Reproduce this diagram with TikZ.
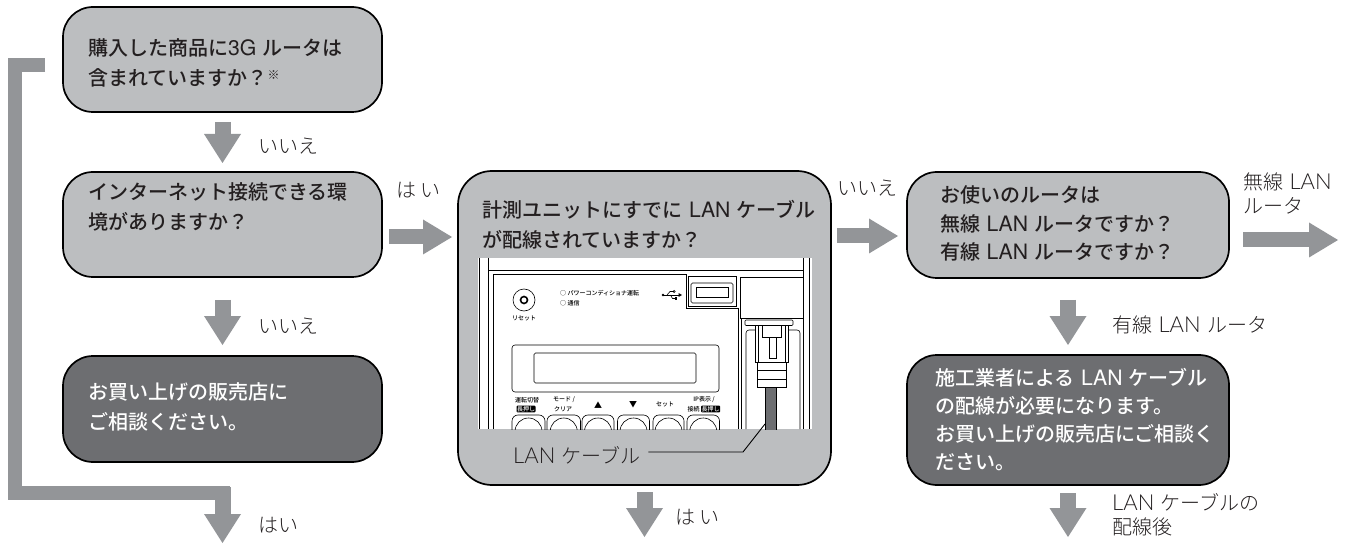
\documentclass[tikz,border=0pt]{standalone}
\usepackage{fontspec}
\usetikzlibrary{arrows.meta,calc}
\setmainfont{Noto Sans CJK JP}
\IfFontExistsTF{Noto Sans CJK JP Light}
  {\newfontfamily\lightjp{Noto Sans CJK JP Light}}
  {\newfontfamily\lightjp{Noto Sans CJK JP}}
\IfFontExistsTF{Noto Sans CJK JP Medium}
  {\newfontfamily\boxjp{Noto Sans CJK JP Medium}}
  {\newfontfamily\boxjp{Noto Sans CJK JP}}
% Latin letters inside the Japanese text
\newfontfamily\latb{TeX Gyre Heros}[Scale=1.06]
\IfFontExistsTF{Lato Light}
  {\newfontfamily\latl{Lato Light}[Scale=1.1]}
  {\newfontfamily\latl{TeX Gyre Heros}[Scale=1.04]}
\newcommand\lanb{\hspace{0.32em}{\latb LAN}\hspace{0.32em}}
\newcommand\lanl{\hspace{0.32em}{\latl LAN}\hspace{0.32em}}

\definecolor{boxlight}{HTML}{BCBEC0}
\definecolor{boxdark}{HTML}{6D6E71}
\definecolor{arrowgray}{HTML}{939598}
\definecolor{inkc}{HTML}{231F20}
\definecolor{cablegray}{HTML}{6D6E71}

\tikzset{
  box/.style={draw=black, line width=1.7pt, rounded corners=30pt, inner sep=0pt, outer sep=0pt},
  lightbox/.style={box, fill=boxlight},
  darkbox/.style={box, fill=boxdark},
  boxtext/.style={anchor=west, align=left, inner sep=0pt, text=inkc,
    font=\boxjp\fontsize{20pt}{30pt}\selectfont},
  darktext/.style={boxtext, text=white},
  lbl/.style={anchor=west, align=left, inner sep=0pt, text=inkc,
    font=\lightjp\fontsize{20pt}{23.5pt}\selectfont},
  vflow/.style={draw=arrowgray, line width=16pt,
    -{Triangle[length=29pt,width=37pt,line width=0pt]}},
  hflow/.style={draw=arrowgray, line width=15pt,
    -{Triangle[length=29pt,width=35pt,line width=0pt]}},
  bar/.style={draw=arrowgray, line width=14pt, line join=miter},
  thinline/.style={line width=0.6pt, draw=black},
  tiny/.style={inner sep=0pt, text=black, font=\boxjp\fontsize{6pt}{6.5pt}\selectfont},
  invlabel/.style={tiny, fill=black, text=white, inner sep=0.5pt, rounded corners=0.8pt},
}

\begin{document}
\begin{tikzpicture}[x=1pt,y=-1pt]
\useasboundingbox (0,0) rectangle (1349,545);

% ---- flow boxes ----
\node[lightbox, minimum width=319pt, minimum height=105pt] (q1) at (222.5,59.5) {};
\node[lightbox, minimum width=319pt, minimum height=105pt] (q2) at (222.5,224.5) {};
\node[darkbox,  minimum width=319pt, minimum height=106pt] (q3) at (222.5,409) {};
\node[lightbox, minimum width=373pt, minimum height=314pt, rounded corners=34pt] (qm) at (644.5,328) {};
\node[lightbox, minimum width=322pt, minimum height=106pt] (qr) at (1068,225) {};
\node[darkbox,  minimum width=322pt, minimum height=130pt] (qd) at (1068,420) {};

% ---- box texts ----
\node[boxtext] (t1) at (88,63) {購入した商品に{\latb 3G}\hspace{0.3em}ルータは\\含まれていますか？\raisebox{6pt}{\fontsize{12pt}{12pt}\selectfont ※}};
\node[boxtext] (t2) at (88,207) {インターネット接続できる環\\境がありますか？};
\node[darktext] (t3) at (88,407) {お買い上げの販売店に\\ご相談ください。};
\node[boxtext] (tm) at (482,225) {計測ユニットにすでに\lanb ケーブル\\が配線されていますか？};
\node[boxtext, font=\boxjp\fontsize{20pt}{28.5pt}\selectfont] (tr) at (940,223.5)
  {お使いのルータは\\無線\lanb ルータですか？\\有線\lanb ルータですか？};
\node[darktext, font=\boxjp\fontsize{20pt}{28pt}\selectfont] (td) at (935,420)
  {施工業者による\lanb ケーブル\\の配線が必要になります。\\お買い上げの販売店にご相談く\\ださい。};

% ---- front panel of the measuring unit ----
\begin{scope}
  \clip (478,258) rectangle (812,429);
  \fill[white] (478,258) rectangle (812,429);
  \begin{scope}[thinline]
    % housing edges
    \draw (479.5,258) -- (479.5,429);
    \draw (488,258) -- (488,429);
    \draw (803,258) -- (803,429);
    \draw (809,258) -- (809,429);
    \draw (488,270) -- (803,270);
    % operation panel outline
    \draw (493.5,429) -- (493.5,274) -- (686,274) -- (686,308) -- (738,308) -- (738,429);
    % USB port
    \draw (688,276) rectangle (736,306);
    \draw[rounded corners=1.5pt] (691,283) rectangle (733,303);
    \draw (696,287.5) rectangle (728,297);
    % LAN port area
    \draw (740,277) rectangle (803,318);
    \draw (741.5,318) -- (741.5,429);
    \draw[rounded corners=3pt] (746,429) -- (746,330) -- (800,330) -- (800,429);
    % LAN plug
    \draw[fill=white, rounded corners=1pt] (745,320) rectangle (793,325.5);
    \draw[fill=white] (755,325.5) rectangle (788,362);
    \draw (758,325.5) -- (758,362);
    \draw (785,325.5) -- (785,362);
    \draw (762,325.5) rectangle (781,337);
    \draw (769,337) rectangle (776,358);
    \draw[fill=white] (757,362) rectangle (786,387);
    \draw (757,370) -- (786,370);
    \draw (757,379) -- (786,379);
    \draw[fill=cablegray] (765,387) rectangle (776,432);
    % reset button
    \draw (524,300) circle[radius=11pt];
    \draw[line width=1.6pt] (524,300) circle[radius=3.5pt];
    % display
    \draw[rounded corners=3pt] (512,345) rectangle (719,392);
    \draw[rounded corners=1.5pt] (534,353) rectangle (696,383);
    % keys
    \foreach \xa/\xb in {512/545, 547/580.5, 582/614, 617.5/649.5, 653/684, 687/719.5}{
      \draw[rounded corners=6pt] (\xa,440) -- (\xa,415) -- (\xb,415) -- (\xb,440);
      \draw ({(\xa+\xb)/2},431.5) circle[radius=13.5pt];
    }
    % USB mark
    \fill (663,295) circle[radius=1.3pt];
    \draw (663,295) -- (679,295);
    \fill (682,295) -- (678.5,293) -- (678.5,297) -- cycle;
    \draw (667,295) -- (670,291.5) -- (673,291.5);
    \draw (674.2,291.5) circle[radius=1.1pt];
    \draw (670.5,295) -- (672.5,298.5) -- (675,298.5);
    \fill (675,297.4) rectangle (677.2,299.6);
  \end{scope}
  % panel labels
  \node[tiny] (rst) at (524,318.5) {リセット};
  \node[tiny, anchor=west] (led1) at (560,293) {○ パワーコンディショナ運転};
  \node[tiny, anchor=west] (led2) at (560,303) {○ 通信};
  \node[tiny] (k1a) at (527,400) {運転切替};
  \node[invlabel] (k1b) at (526,409) {長押し};
  \node[tiny] (k2a) at (564,400) {モード /};
  \node[tiny] (k2b) at (563,409) {クリア};
  \node[tiny, font=\fontsize{8pt}{8pt}\selectfont] (k3) at (598,405) {▲};
  \node[tiny, font=\fontsize{8pt}{8pt}\selectfont] (k4) at (633,405) {▼};
  \node[tiny] (k5) at (665,404.5) {セット};
  \node[tiny] (k6a) at (704,400) {IP表示 /};
  \node[tiny, anchor=west] (k6b) at (687.5,409) {接続};
  \node[invlabel, anchor=west] (k6c) at (701,409) {長押し};
  \coordinate (cabletip) at (765,424);
\end{scope}

% cable callout
\node[lbl] (lanlbl) at (513,455) {{\latl LAN}\hspace{0.3em}ケーブル};
\coordinate (leadknee) at (743,452);
\draw[line width=0.9pt] ($(lanlbl.east)+(8,-3)$) -- (leadknee) -- (cabletip);

% ---- flow arrows ----
\coordinate (a1s) at ($(q1.south)+(0,10)$);
\coordinate (a1e) at ($(q2.north)+(0,-9)$);
\draw[vflow] (a1s) -- (a1e);

\coordinate (a2s) at ($(q2.south)+(0,23)$);
\coordinate (a2e) at ($(q3.north)+(0,-11)$);
\draw[vflow] (a2s) -- (a2e);

% "yes" path from the first question down the left side
\coordinate (bs) at ($(q1.west)+(-18,5.5)$);
\coordinate (bc1) at (15,65);
\coordinate (bc2) at (15,493);
\coordinate (bc3) at (230,493);
\draw[bar] (bs) -- (bc1) -- (bc2) -- (bc3);
\coordinate (ys) at (222.5,487);
\coordinate (ye) at (222.5,543);
\draw[vflow] (ys) -- (ye);

\coordinate (h1s) at ($(q2.east)+(7,12.5)$);
\coordinate (h1e) at ($(qm.west |- h1s)+(-6,0)$);
\draw[hflow] (h1s) -- (h1e);

\coordinate (h2s) at ($(qm.east)+(6,-92)$);
\coordinate (h2e) at ($(qr.west)+(-9,11)$);
\draw[hflow] (h2s) -- (h2e);

\coordinate (h3s) at ($(qr.east)+(14,15)$);
\coordinate (h3e) at ($(h3s)+(95,0)$);
\draw[hflow] (h3s) -- (h3e);

\coordinate (d1s) at ($(qr.south)+(0,22)$);
\coordinate (d1e) at ($(qd.north)+(0,-10)$);
\draw[vflow] (d1s) -- (d1e);

\coordinate (d2s) at ($(qd.south)+(0,8)$);
\coordinate (d2e) at ($(d2s)+(0,44)$);
\draw[vflow] (d2s) -- (d2e);

\coordinate (dms) at ($(qm.south)+(0,7)$);
\coordinate (dme) at ($(dms)+(0,45)$);
\draw[vflow] (dms) -- (dme);

% ---- branch labels ----
\node[lbl] (l1) at (258,146) {いいえ};
\node[lbl] (l2) at (258,326) {いいえ};
\node[lbl] (l3) at (258,525) {はい};
\node[lbl] (l4) at (396,190) {は い};
\node[lbl] (l5) at (675,517) {は い};
\node[lbl] (l6) at (837,188) {いいえ};
\node[lbl] (l7) at (1243,193.5) {無線\lanl\\ルータ};
\node[lbl] (l8) at (1112,325) {有線\lanl ルータ};
\node[lbl] (l9) at (1112,515) {{\latl LAN}\hspace{0.3em}ケーブルの\\配線後};
\end{tikzpicture}
\end{document}
